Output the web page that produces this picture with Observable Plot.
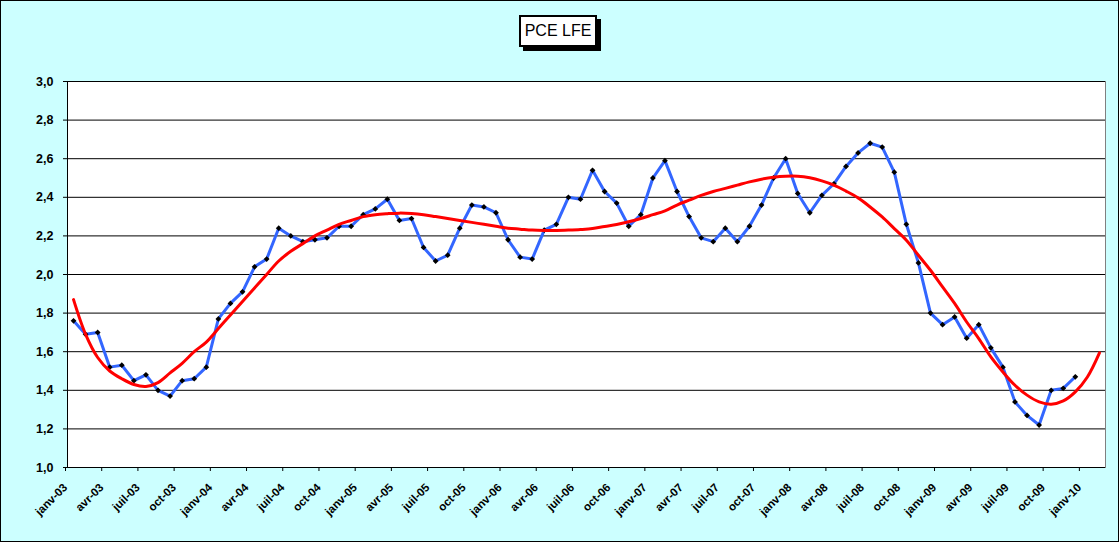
<!DOCTYPE html>
<html><head><meta charset="utf-8">
<script src="https://cdn.jsdelivr.net/npm/d3@7"></script>
<script src="https://cdn.jsdelivr.net/npm/@observablehq/plot@0.6"></script>
<style>
body{margin:0;background:#fff;}
#wrap{position:relative;width:1120px;height:543px;overflow:hidden;}
#bg{position:absolute;left:0;top:0;width:1119px;height:542px;box-sizing:border-box;border:1px solid #000;background:#CCFFFF;}
#title{position:absolute;left:519px;top:15px;width:78px;height:32px;box-sizing:border-box;border:2px solid #000;background:#fff;box-shadow:4px 4px 0 #000;font:16px "Liberation Sans",Arial,sans-serif;display:flex;align-items:center;justify-content:center;color:#000;}
#chart{position:absolute;left:0;top:0;}
</style></head>
<body><div id="wrap"><div id="bg"></div><div id="chart"></div><div id="title">PCE LFE</div></div>
<script>
const tickLabels = ["janv-03","avr-03","juil-03","oct-03","janv-04","avr-04","juil-04","oct-04",
  "janv-05","avr-05","juil-05","oct-05","janv-06","avr-06","juil-06","oct-06",
  "janv-07","avr-07","juil-07","oct-07","janv-08","avr-08","juil-08","oct-08",
  "janv-09","avr-09","juil-09","oct-09","janv-10"];

// PCE LFE, monthly Jan 2003 - Dec 2009
const pce = [1.76,1.69,1.70,1.52,1.53,1.45,1.48,1.40,1.37,1.45,1.46,1.52,
  1.77,1.85,1.91,2.04,2.08,2.24,2.20,2.17,2.18,2.19,2.25,2.25,
  2.31,2.34,2.39,2.28,2.29,2.14,2.07,2.10,2.24,2.36,2.35,2.32,
  2.18,2.09,2.08,2.23,2.26,2.40,2.39,2.54,2.43,2.37,2.25,2.31,
  2.50,2.59,2.43,2.30,2.19,2.17,2.24,2.17,2.25,2.36,2.50,2.60,
  2.42,2.32,2.41,2.47,2.56,2.63,2.68,2.66,2.53,2.26,2.06,1.80,
  1.74,1.78,1.67,1.74,1.62,1.52,1.34,1.27,1.22,1.40,1.41,1.47];

// Polynomial trend, monthly Jan 2003 - Feb 2010
const trend = [1.87,1.69,1.57,1.50,1.46,1.43,1.42,1.44,1.49,1.54,1.60,1.65,
  1.72,1.79,1.86,1.93,2.00,2.07,2.12,2.16,2.20,2.23,2.26,2.28,
  2.30,2.31,2.315,2.318,2.316,2.31,2.30,2.29,2.28,2.27,2.26,2.25,
  2.24,2.235,2.23,2.228,2.228,2.23,2.233,2.238,2.249,2.259,2.273,2.29,
  2.31,2.33,2.36,2.385,2.41,2.43,2.446,2.463,2.48,2.494,2.504,2.509,
  2.509,2.501,2.485,2.463,2.432,2.397,2.35,2.298,2.238,2.178,2.10,2.022,
  1.936,1.85,1.754,1.668,1.573,1.495,1.426,1.375,1.34,1.328,1.345,1.392,
  1.469,1.594];

const yTicks = [1.0,1.2,1.4,1.6,1.8,2.0,2.2,2.4,2.6,2.8,3.0];

const nCats = trend.length;
const pceData = pce.map((v,i)=>({i:i+0.5, v}));
const trendData = trend.map((v,i)=>({i:i+0.5, v}));
const xTicks = tickLabels.map((_,k)=>k*3);
const font = "'Liberation Sans', Arial, sans-serif";

const chart = Plot.plot({
  width:1120, height:543,
  marginLeft:67, marginRight:15, marginTop:81, marginBottom:76,
  style:{background:"transparent", fontFamily:font, fontSize:"11px", fontWeight:"bold", color:"#000", overflow:"visible"},
  x:{type:"linear", domain:[0,nCats]},
  y:{domain:[1,3]},
  marks:[
    Plot.frame({fill:"#fff", stroke:"#808080"}),
    Plot.ruleY(yTicks, {stroke:"#000"}),
    Plot.ruleX([0], {stroke:"#000"}),
    Plot.axisY({ticks:yTicks, tickFormat:d=>d.toFixed(1).replace(".",","), tickSize:4, tickPadding:10, label:null, fontWeight:"bold", fontSize:12.5}),
    Plot.axisX({ticks:xTicks, tickFormat:d=>tickLabels[Math.round(d/3)], tickRotate:-45, tickSize:4, tickPadding:14, dx:-2, label:null, fontWeight:"bold", fontSize:11.5}),
    Plot.line(pceData,{x:"i",y:"v",stroke:"#3366FF",strokeWidth:3}),
    Plot.dot(pceData,{x:"i",y:"v",symbol:"diamond2",r:2.6,fill:"#000"}),
    Plot.line(trendData,{x:"i",y:"v",stroke:"#FF0000",strokeWidth:3,curve:"catmull-rom"})
  ]
});
document.getElementById("chart").appendChild(chart);
</script>
</body></html>
